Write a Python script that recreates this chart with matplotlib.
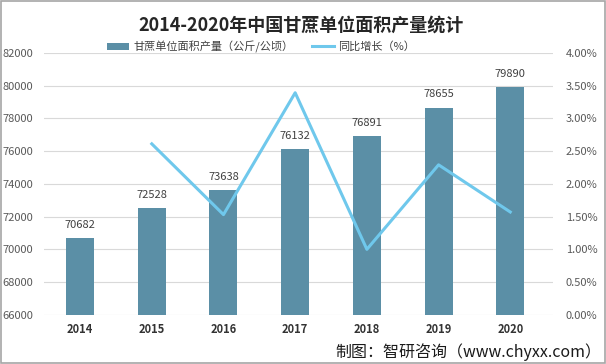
import matplotlib.pyplot as plt
import numpy as np
from matplotlib.lines import Line2D
from matplotlib.patches import Patch

plt.rcParams['font.family'] = ['Noto Sans CJK SC', 'DejaVu Sans']

years = ['2014', '2015', '2016', '2017', '2018', '2019', '2020']
output = [70682, 72528, 73638, 76132, 76891, 78655, 79890]
growth_years = ['2015', '2016', '2017', '2018', '2019', '2020']
growth = [2.61, 1.53, 3.39, 1.00, 2.29, 1.57]

bar_color = '#5b8fa6'
line_color = '#6fc8ec'
grid_color = '#d9d9d9'
tick_color = '#595959'

fig = plt.figure(figsize=(6.06, 3.64), dpi=100)
ax = fig.add_axes([0.073, 0.135, 0.84, 0.72])
ax2 = ax.twinx()

x = np.arange(len(years))
ax.bar(x, output, width=0.39, color=bar_color, zorder=2)
for xi, v in zip(x, output):
    ax.text(xi, v + 500, str(v), ha='center', va='bottom', fontsize=8, color='#404040')

gx = [years.index(y) for y in growth_years]
ax2.plot(gx, growth, color=line_color, linewidth=2.2, zorder=3)

ax.set_ylim(66000, 82000)
ax.set_yticks(range(66000, 82001, 2000))
ax2.set_ylim(0, 4)
ax2.set_yticks(np.arange(0, 4.01, 0.5))
ax2.set_yticklabels([f'{t:.2f}%' for t in np.arange(0, 4.01, 0.5)])
ax.set_xlim(-0.5, len(years) - 0.4)
ax.set_xticks(x)
ax.set_xticklabels(years, fontweight='bold', fontsize=8, color='#333333')

ax.grid(axis='y', color=grid_color, linewidth=0.8, zorder=0)
ax.set_axisbelow(True)
for a in (ax, ax2):
    for s in a.spines.values():
        s.set_visible(False)
    a.tick_params(length=0, labelsize=8, labelcolor=tick_color)
ax.tick_params(axis='x', pad=6, labelcolor='#333333')
ax.tick_params(axis='y', pad=8)
ax2.tick_params(axis='y', pad=9)

fig.text(0.497, 0.932, '2014-2020年中国甘蔗单位面积产量统计', ha='center', va='center',
         fontsize=13, fontweight='bold', color='#262626')

handles = [Patch(facecolor=bar_color), Line2D([0], [0], color=line_color, linewidth=2.2)]
fig.legend(handles, ['甘蔗单位面积产量（公斤/公顷）', '同比增长（%）'], loc='center',
           bbox_to_anchor=(0.431, 0.872), ncol=2, frameon=False, fontsize=8,
           handlelength=2.0, handleheight=0.6, handletextpad=0.4, columnspacing=1.6,
           labelcolor='#404040')

fig.text(0.992, 0.032, '制图：智研咨询（www.chyxx.com）', ha='right', va='center',
         fontsize=11.5, color='#1a1a1a')

fig.patches.append(plt.Rectangle((0.001, 0.002), 0.997, 0.995, transform=fig.transFigure,
                                 fill=False, edgecolor='#a6a6a6', linewidth=1.2))

fig.savefig('out.png', dpi=100)
